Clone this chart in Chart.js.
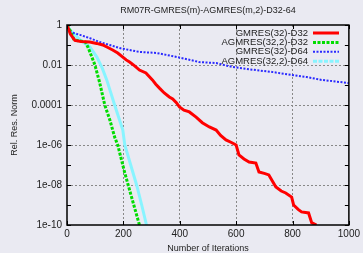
<!DOCTYPE html>
<html>
<head>
<meta charset="utf-8">
<script src="https://cdn.jsdelivr.net/npm/chart.js@4/dist/chart.umd.min.js"></script>
<style>
  html, body { margin: 0; padding: 0; background: #eaeaf2; }
  #wrap { width: 363px; height: 253px; }
</style>
</head>
<body>
<div id="wrap"><canvas id="chart" width="363" height="253"></canvas></div>
<script>
// Chart text
const chartTitle = 'RM07R-GMRES(m)-AGMRES(m,2)-D32-64';
const seriesNames = ['GMRES(32)-D32', 'AGMRES(32,2)-D32', 'GMRES(32)-D64', 'AGMRES(32,2)-D64'];

// Axes
const xTicks = [0, 200, 400, 600, 800, 1000];
const xTickLabels = ['0', '200', '400', '600', '800', '1000'];
const yTicks = [1e-10, 1e-8, 1e-6, 1e-4, 1e-2, 1];
const yTickLabels = ['1e-10', '1e-08', '1e-06', '0.0001', '0.01', '1'];
const yMinorTicks = [1e-9, 1e-7, 1e-5, 1e-3, 1e-1];

// GMRES(32)-D32
const gmresD32Iter = [0, 12, 28, 50, 81, 105, 127, 145, 162, 180, 198, 210, 222, 240, 257, 280, 303, 315, 328, 345, 363, 375, 388, 399, 415, 434, 458, 480, 505, 529, 545, 564, 585, 600, 610, 628, 646, 670, 681, 700, 716, 741, 760, 776, 797, 804, 820, 832, 857, 868, 885];
const gmresD32Res = [1, 0.35, 0.17, 0.15, 0.14, 0.12, 0.1, 0.075, 0.056, 0.04, 0.025, 0.018, 0.014, 0.009, 0.0056, 0.004, 0.0018, 0.0011, 0.0007, 0.0004, 0.00025, 0.0002, 0.00013, 8e-5, 5.5e-5, 4.5e-5, 2.5e-5, 1.3e-5, 8e-6, 5.6e-6, 3e-6, 1.8e-6, 1.3e-6, 1e-6, 3.2e-7, 2e-7, 1.4e-7, 1.25e-7, 4.5e-8, 3.8e-8, 3.2e-8, 8e-9, 5e-9, 4e-9, 2.5e-9, 1e-9, 6e-10, 4.5e-10, 4e-10, 1.3e-10, 1e-10];

// AGMRES(32,2)-D32
const agmresD32Iter = [0, 12, 25, 45, 65, 74, 86, 99, 116, 134, 152, 169, 180, 205, 229, 257];
const agmresD32Res = [1, 0.5, 0.18, 0.16, 0.14, 0.08, 0.03, 0.01, 0.0013, 1e-4, 1.8e-5, 2.5e-6, 1e-6, 4e-8, 2.5e-9, 1e-10];

// GMRES(32)-D64
const gmresD64Iter = [0, 11, 46, 81, 116, 152, 187, 257, 317, 353, 409, 469, 529, 586, 650, 727, 797, 850, 903, 1000];
const gmresD64Res = [1, 0.45, 0.32, 0.22, 0.14, 0.1, 0.07, 0.045, 0.04, 0.032, 0.022, 0.014, 0.0125, 0.008, 0.006, 0.0045, 0.0032, 0.0025, 0.0018, 0.00125];

// AGMRES(32,2)-D64
const agmresD64Iter = [0, 11, 46, 81, 106, 125, 141, 169, 198, 205, 226, 247, 265, 282];
const agmresD64Res = [1, 0.56, 0.18, 0.08, 0.025, 0.007, 0.0018, 1e-4, 5.6e-6, 1e-6, 1e-7, 1e-8, 1e-9, 1e-10];

const seriesX = [gmresD32Iter, agmresD32Iter, gmresD64Iter, agmresD64Iter];
const seriesY = [gmresD32Res, agmresD32Res, gmresD64Res, agmresD64Res];
const seriesColors = ['#ff0000', '#00dd00', '#2a2aff', '#88f4ff'];
const seriesWidths = [3, 3, 2, 3];
const seriesDash = [[], [3, 1.5], [2, 1.5], []];
const legendDash = [[], [3, 1.5], [2, 1.5], [4, 1.5]];

const FONT = '"Liberation Sans", Arial, sans-serif';

// Title, frame, inside tick marks and key drawn on top of the plot
const framePlugin = {
  id: 'frame',
  afterDraw(chart) {
    const { ctx, chartArea: a, scales } = chart;
    ctx.save();
    ctx.fillStyle = '#222';
    ctx.font = '9px ' + FONT;
    ctx.textAlign = 'center';
    ctx.textBaseline = 'middle';
    ctx.fillText(chartTitle, (a.left + a.right) / 2, 11);

    ctx.strokeStyle = '#000';
    ctx.lineWidth = 1;
    ctx.beginPath();
    yMinorTicks.concat(yTicks).forEach((v) => {
      const y = Math.round(scales.y.getPixelForValue(v)) + 0.5;
      ctx.moveTo(a.left, y); ctx.lineTo(a.left + 4, y);
      ctx.moveTo(a.right, y); ctx.lineTo(a.right - 4, y);
    });
    xTicks.forEach((v) => {
      const x = Math.round(scales.x.getPixelForValue(v)) + 0.5;
      ctx.moveTo(x, a.bottom); ctx.lineTo(x, a.bottom - 4);
      ctx.moveTo(x, a.top); ctx.lineTo(x, a.top + 4);
    });
    ctx.stroke();

    ctx.lineWidth = 1.5;
    ctx.strokeRect(a.left, a.top, a.right - a.left, a.bottom - a.top);

    // key
    ctx.font = '9.5px ' + FONT;
    ctx.textAlign = 'right';
    chart.data.datasets.forEach((ds, i) => {
      const y = 33 + i * 9.4;
      ctx.fillStyle = '#222';
      ctx.fillText(ds.label, 308, y);
      ctx.strokeStyle = ds.borderColor;
      ctx.lineWidth = ds.borderWidth;
      ctx.setLineDash(legendDash[i]);
      ctx.beginPath();
      ctx.moveTo(313, y); ctx.lineTo(339, y);
      ctx.stroke();
    });
    ctx.restore();
  }
};

const ctx = document.getElementById('chart').getContext('2d');
const chart = new Chart(ctx, {
  type: 'line',
  data: {
    datasets: seriesNames.map((name, i) => ({
      label: name,
      data: seriesX[i].map((x, j) => ({ x: x, y: seriesY[i][j] })),
      borderColor: seriesColors[i],
      backgroundColor: seriesColors[i],
      borderWidth: seriesWidths[i],
      borderDash: seriesDash[i],
      pointRadius: 0,
      tension: 0,
      fill: false,
    })),
  },
  options: {
    responsive: false,
    animation: false,
    layout: { padding: { left: 0, right: 13, top: 25, bottom: 0 } },
    plugins: {
      legend: { display: false },
      title: { display: false },
      tooltip: { enabled: false },
    },
    scales: {
      x: {
        type: 'linear',
        min: 0,
        max: 1000,
        afterBuildTicks: (s) => { s.ticks = xTicks.map((v) => ({ value: v })); },
        afterFit: (s) => { s.height = 28; },
        ticks: {
          color: '#222',
          font: { family: FONT, size: 10 },
          padding: 3,
          maxRotation: 0,
          callback: (value, index) => xTickLabels[index],
        },
        grid: {
          drawTicks: false,
          color: (c) => (c.tick && (c.tick.value === 0 || c.tick.value === 1000) ? 'rgba(0,0,0,0)' : '#888'),
          lineWidth: 1,
        },
        border: { display: false, dash: [2, 2] },
        title: { display: true, text: 'Number of Iterations', color: '#222', font: { family: FONT, size: 9, lineHeight: 1 }, padding: { top: 0, bottom: 0 } },
      },
      y: {
        type: 'logarithmic',
        min: 1e-10,
        max: 1,
        afterBuildTicks: (s) => { s.ticks = yTicks.map((v) => ({ value: v })); },
        afterFit: (s) => { s.width = 67; },
        ticks: {
          color: '#222',
          font: { family: FONT, size: 10 },
          padding: 5,
          callback: (value, index) => yTickLabels[index],
        },
        grid: {
          drawTicks: false,
          color: (c) => (c.tick && (c.tick.value === 1 || c.tick.value === 1e-10) ? 'rgba(0,0,0,0)' : '#888'),
          lineWidth: 1,
        },
        border: { display: false, dash: [2, 2] },
        title: { display: true, text: 'Rel. Res. Norm', color: '#222', font: { family: FONT, size: 9, lineHeight: 1.2 }, padding: { top: 9, bottom: 0 } },
      },
    },
  },
  plugins: [framePlugin],
});
</script>
</body>
</html>
